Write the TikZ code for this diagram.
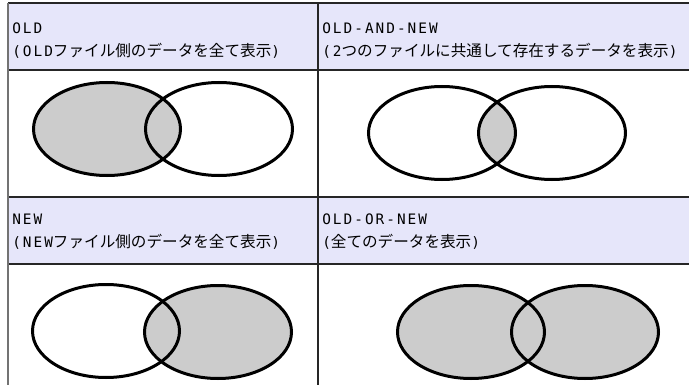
\documentclass[tikz,border=0pt]{standalone}
\usepackage{fontspec}
\setmainfont{Noto Sans CJK JP}
\newfontfamily\latmono[LetterSpace=14]{DejaVu Sans Mono}
\newcommand{\lt}[1]{{\latmono\fontsize{10.8}{13}\selectfont #1}}
\begin{document}
\begin{tikzpicture}[x=0.75pt,y=-0.75pt,
  grid/.style={draw=black!85,line width=0.9pt},
  lbl/.style={anchor=base west,inner sep=0pt,font=\fontsize{11.7}{13}\selectfont},
  venn/.style={draw=black,line width=2.25pt}]
\definecolor{headfill}{HTML}{E6E6FA}
\definecolor{vennfill}{HTML}{CCCCCC}
\useasboundingbox (0,0) rectangle (689,385);
\fill[white] (0,0) rectangle (689,385);
% headers
\fill[headfill] (8,3) rectangle (689,70);
\fill[headfill] (8,197) rectangle (689,264);
% grid
\draw[grid] (8,3) -- (689,3);
\draw[grid] (8,70) -- (689,70);
\draw[grid] (8,197) -- (689,197);
\draw[grid] (8,264) -- (689,264);
\draw[grid] (318,3) -- (318,385);
\draw[draw=black!55,line width=1.2pt] (8,3) -- (8,385);
% labels
\node[lbl] (t1a) at (12,34) {\lt{OLD}};
\node[lbl] (t1b) at (12,57) {\lt{(OLD}ファイル側のデータを全て表示\lt{)}};
\node[lbl] (t2a) at (322,34) {\lt{OLD-AND-NEW}};
\node[lbl] (t2b) at (322,57) {\lt{(2}つのファイルに共通して存在するデータを表示\lt{)}};
\node[lbl] (t3a) at (12,224) {\lt{NEW}};
\node[lbl] (t3b) at (12,247) {\lt{(NEW}ファイル側のデータを全て表示\lt{)}};
\node[lbl] (t4a) at (322,224) {\lt{OLD-OR-NEW}};
\node[lbl] (t4b) at (322,247) {\lt{(}全てのデータを表示\lt{)}};
\def\rx{55.125pt}\def\ry{34.875pt}
% panel 1: OLD
\coordinate (a1) at (107,129); \coordinate (b1) at (219,129);
\fill[vennfill] (a1) ellipse [x radius=\rx, y radius=\ry];
\draw[venn] (a1) ellipse [x radius=\rx, y radius=\ry];
\draw[venn] (b1) ellipse [x radius=\rx, y radius=\ry];
% panel 2: AND
\coordinate (a2) at (442,133); \coordinate (b2) at (552,133);
\begin{scope}
\clip (a2) ellipse [x radius=\rx, y radius=\ry];
\fill[vennfill] (b2) ellipse [x radius=\rx, y radius=\ry];
\end{scope}
\draw[venn] (a2) ellipse [x radius=\rx, y radius=\ry];
\draw[venn] (b2) ellipse [x radius=\rx, y radius=\ry];
% panel 3: NEW
\coordinate (a3) at (106,331); \coordinate (b3) at (218,332);
\fill[vennfill] (b3) ellipse [x radius=\rx, y radius=\ry];
\draw[venn] (a3) ellipse [x radius=\rx, y radius=\ry];
\draw[venn] (b3) ellipse [x radius=\rx, y radius=\ry];
% panel 4: OR
\coordinate (a4) at (471,332); \coordinate (b4) at (585,332);
\fill[vennfill] (a4) ellipse [x radius=\rx, y radius=\ry];
\fill[vennfill] (b4) ellipse [x radius=\rx, y radius=\ry];
\draw[venn] (a4) ellipse [x radius=\rx, y radius=\ry];
\draw[venn] (b4) ellipse [x radius=\rx, y radius=\ry];
\end{tikzpicture}
\end{document}
